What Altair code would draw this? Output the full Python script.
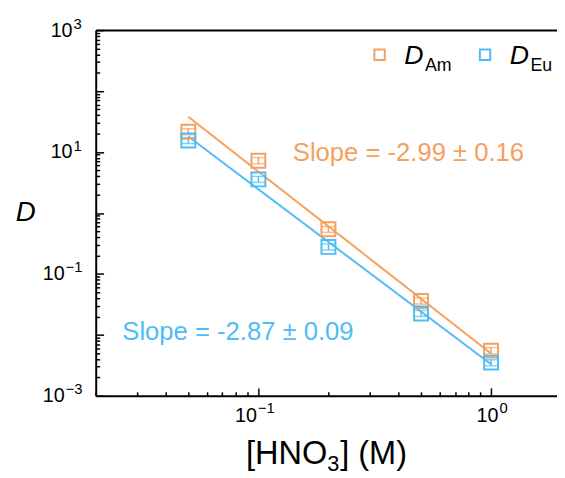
import altair as alt
import pandas as pd

# ---------------- data ----------------
hno3 = [0.05, 0.1, 0.2, 0.5, 1.0]
d_am = [21.5, 7.2, 0.54, 0.036, 0.0055]
d_am_lo = [19.2, 6.4, 0.48, 0.032, 0.0049]
d_am_hi = [24.1, 8.1, 0.60, 0.040, 0.0062]
d_eu = [15.4, 3.55, 0.277, 0.0224, 0.0035]
d_eu_lo = [13.8, 3.17, 0.247, 0.0200, 0.0031]
d_eu_hi = [17.2, 3.97, 0.310, 0.0251, 0.0039]

fit_x = [0.05, 1.0]
fit_am = [37.8, 0.00495]
fit_eu = [17.9, 0.00329]

series = ["Am", "Eu"]
slope_text = ["Slope = -2.99 ± 0.16", "Slope = -2.87 ± 0.09"]

x_label_exp = [-1, 0]
y_label_exp = [-3, -1, 1, 3]
label_base = "10"

x_minor = [0.02, 0.03, 0.04, 0.05, 0.06, 0.07, 0.08, 0.09,
           0.1, 0.2, 0.3, 0.4, 0.5, 0.6, 0.7, 0.8, 0.9, 1.0]
y_ticks = [m * 10.0 ** e for e in range(-3, 3) for m in range(1, 10)] + [1000.0]

# ---------------- style ----------------
ORANGE = "#F5A05C"
BLUE = "#4FBDF5"
FONT = "Liberation Sans"
W, H = 468, 371
X_DOM = [0.02, 1.92]
Y_DOM = [1e-3, 1e3]

pts = pd.DataFrame({
    "x": hno3 * 2,
    "D": d_am + d_eu,
    "lo": d_am_lo + d_eu_lo,
    "hi": d_am_hi + d_eu_hi,
    "s": [series[0]] * len(hno3) + [series[1]] * len(hno3),
})
caps = pd.DataFrame({
    "x": hno3 * 4,
    "D": d_am_lo + d_am_hi + d_eu_lo + d_eu_hi,
    "s": [series[0]] * (2 * len(hno3)) + [series[1]] * (2 * len(hno3)),
})
fit = pd.DataFrame({
    "x": fit_x * 2,
    "D": fit_am + fit_eu,
    "s": [series[0]] * 2 + [series[1]] * 2,
})

xs = alt.Scale(type="log", domain=X_DOM, nice=False)
ys = alt.Scale(type="log", domain=Y_DOM, nice=False)
cs = alt.Scale(domain=series, range=[ORANGE, BLUE])

EXP = "round(log(datum.value)/LN10)"
SUP = f"({EXP} < 0 ? '\u2212' + abs({EXP}) : '' + {EXP})"
MAJOR = "abs(log(datum.value)/LN10 - round(log(datum.value)/LN10)) < 0.001"
NEG = "datum.value < 0.5"
tick_size = {"condition": {"test": MAJOR, "value": 8}, "value": 4}

common = dict(labelFont=FONT, labelColor="black", labelFlush=False,
              labelOverlap=False, labelBound=False, grid=False, title=None)

x_main = alt.Axis(orient="bottom", values=[10.0 ** e for e in x_label_exp],
                  labelExpr=f"'{label_base}'", labelAlign="right",
                  labelOffset={"condition": {"test": NEG, "value": -2}, "value": 7},
                  ticks=False, domain=True, domainColor="black", domainWidth=2,
                  labelFontSize=20, labelPadding=10, **common)
x_sup = alt.Axis(orient="bottom", values=[10.0 ** e for e in x_label_exp],
                 labelExpr=SUP, labelAlign="left",
                 labelOffset={"condition": {"test": NEG, "value": -1}, "value": 8},
                 ticks=False, domain=False, labelFontSize=15, labelPadding=5, **common)
y_main = alt.Axis(orient="left", values=[10.0 ** e for e in y_label_exp],
                  labelExpr=f"'{label_base}'", labelAlign="right",
                  labelPadding={"condition": {"test": "datum.value < 1", "value": 32}, "value": 24},
                  ticks=False, domain=True, domainColor="black", domainWidth=2,
                  labelFontSize=20, **common)
y_sup = alt.Axis(orient="left", values=[10.0 ** e for e in y_label_exp],
                 labelExpr=SUP, labelAlign="left",
                 labelPadding={"condition": {"test": "datum.value < 1", "value": 31}, "value": 23},
                 labelOffset=-7, ticks=False, domain=False, labelFontSize=15, **common)
x_tick_axis = alt.Axis(orient="top", offset=-H, values=x_minor, labels=False,
                       domain=False, tickSize=tick_size, tickWidth=1.5,
                       tickColor="black", grid=False, title=None)
y_tick_axis = alt.Axis(orient="right", offset=-W, values=y_ticks, labels=False,
                       domain=False, tickSize=tick_size, tickWidth=1.5,
                       tickColor="black", grid=False, title=None)
x_top = alt.Axis(orient="top", ticks=False, labels=False, domain=True,
                 domainColor="black", domainWidth=2, grid=False, title=None)

lines = alt.Chart(fit).mark_line(strokeWidth=2).encode(
    x=alt.X("x:Q", scale=xs, axis=x_main),
    y=alt.Y("D:Q", scale=ys, axis=y_main),
    color=alt.Color("s:N", scale=cs, legend=None),
    detail="s:N",
)

bars = alt.Chart(pts).mark_rule(strokeWidth=1.5).encode(
    x=alt.X("x:Q", scale=xs, axis=x_tick_axis),
    y=alt.Y("lo:Q", scale=ys, axis=y_tick_axis),
    y2="hi:Q",
    color=alt.Color("s:N", scale=cs, legend=None),
)

cap_marks = alt.Chart(caps).mark_tick(orient="horizontal", size=14, thickness=1.5).encode(
    x=alt.X("x:Q", scale=xs, axis=x_sup),
    y=alt.Y("D:Q", scale=ys, axis=y_sup),
    color=alt.Color("s:N", scale=cs, legend=None),
)

points = alt.Chart(pts).mark_point(shape="square", filled=False, size=200, strokeWidth=2, opacity=1).encode(
    x=alt.X("x:Q", scale=xs, axis=x_top),
    y=alt.Y("D:Q", scale=ys, axis=None),
    color=alt.Color("s:N", scale=cs, legend=None),
)

one = pd.DataFrame({"a": [0]})


def txt(text, x, y, size, color="black", style="normal", align="left", baseline="alphabetic"):
    return alt.Chart(one).mark_text(text=text, font=FONT, fontSize=size, color=color,
                                    fontStyle=style, align=align, baseline=baseline).encode(
        x=alt.value(x), y=alt.value(y))


def legend_square(x, y, color):
    return alt.Chart(one).mark_point(shape="square", filled=False, size=110, strokeWidth=2,
                                     color=color, opacity=1).encode(x=alt.value(x), y=alt.value(y))


layers = [
    lines, bars, cap_marks, points,
    txt(slope_text[0], 200, 133, 26, ORANGE),
    txt(slope_text[1], 27, 314, 26, BLUE),
    legend_square(288, 25, ORANGE),
    txt("D", 313, 34, 27, style="italic"),
    txt("Am", 334, 41, 18),
    legend_square(395, 25, BLUE),
    txt("D", 420, 34, 27, style="italic"),
    txt("Eu", 441, 41, 18),
    txt("D", -71, 186, 28, style="italic", align="center", baseline="middle"),
    txt("[HNO", 235, 440, 33, align="right"),
    txt("3", 235, 447, 22),
    txt("] (M)", 248, 440, 33),
]

chart = alt.layer(*layers).resolve_axis(x="independent", y="independent").properties(
    width=W, height=H,
    autosize=alt.AutoSizeParams(type="none"),
    padding={"left": 89, "top": 19, "right": 0, "bottom": 80},
).configure_view(stroke=None).configure(background="white")

chart.save("out.html", embed_options={"renderer": "svg", "actions": False})
